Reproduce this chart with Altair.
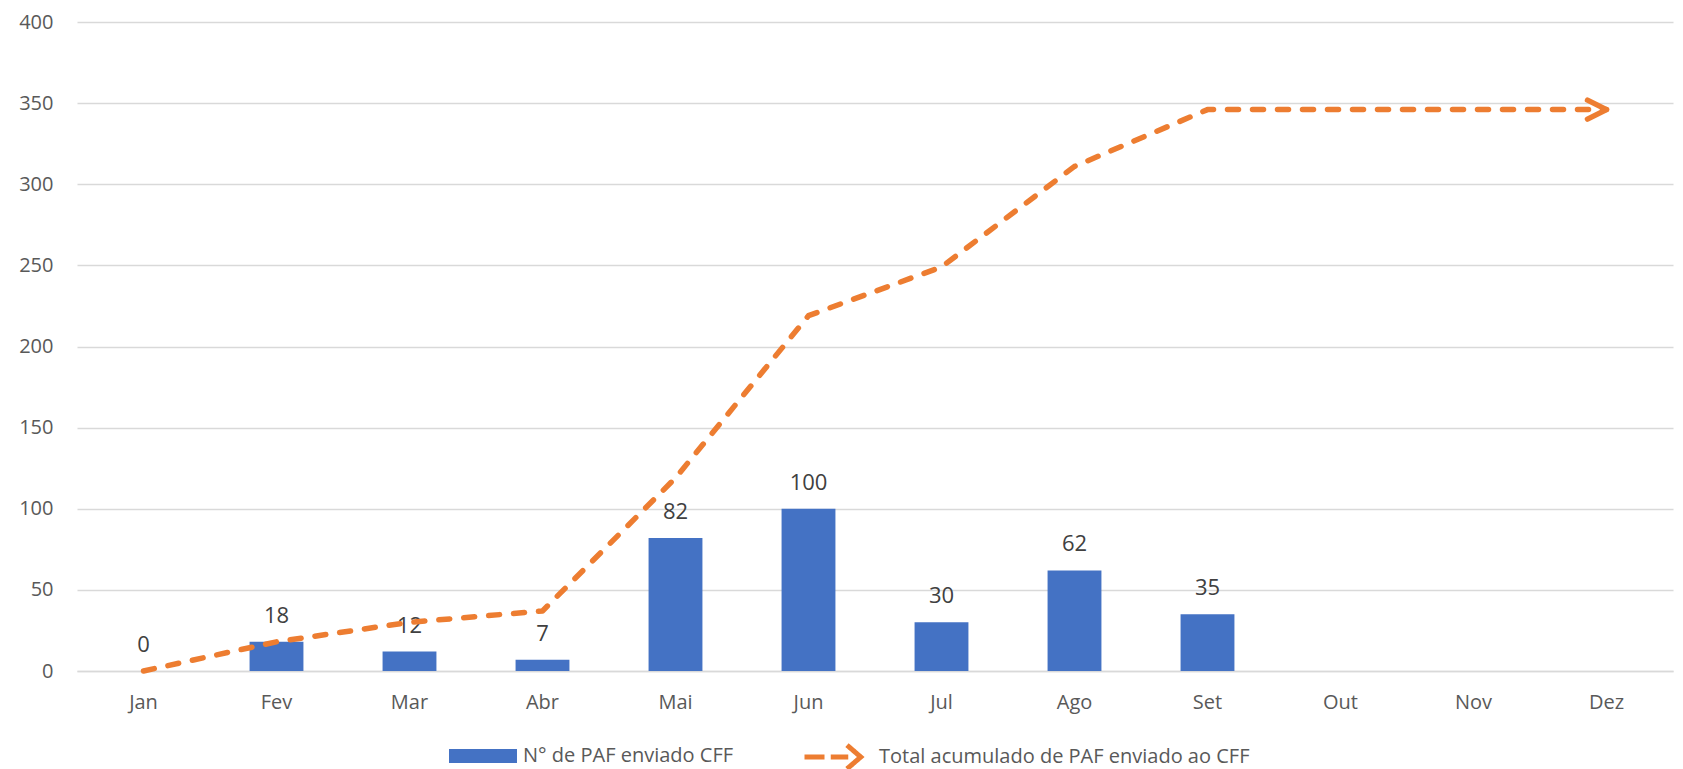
import altair as alt
import pandas as pd

months = ["Jan", "Fev", "Mar", "Abr", "Mai", "Jun", "Jul", "Ago", "Set", "Out", "Nov", "Dez"]
enviados = [0, 18, 12, 7, 82, 100, 30, 62, 35, None, None, None]
acumulado = [0, 18, 30, 37, 119, 219, 249, 311, 346, 346, 346, 346]
y_ticks = [0, 50, 100, 150, 200, 250, 300, 350, 400]

bar_name = "N° de PAF enviado CFF"
line_name = "Total acumulado de PAF enviado ao CFF"

BLUE = "#4472C4"
ORANGE = "#ED7D31"
GRID = "#d9d9d9"
TXT = "#595959"
FONT = "Open Sans"

df = pd.DataFrame({
    "mes": months,
    "enviados": enviados,
    "acumulado": acumulado,
    "serie_barra": bar_name,
    "serie_linha": line_name,
})

x = alt.X(
    "mes:N", sort=months,
    scale=alt.Scale(paddingInner=0.595, paddingOuter=0.2975),
    axis=alt.Axis(title=None, labelAngle=0, labelPadding=21, ticks=False,
                  domainColor=GRID, domainWidth=1.5, grid=False),
)
y_scale = alt.Scale(domain=[0, 400], nice=False)
y_axis = alt.Axis(title=None, values=y_ticks, labelPadding=24, ticks=False,
                  domain=False, grid=True)

base = alt.Chart(df)

bars = base.mark_bar(color=BLUE).encode(
    x=x,
    y=alt.Y("enviados:Q", scale=y_scale, axis=y_axis),
    color=alt.Color(
        "serie_barra:N",
        scale=alt.Scale(domain=[bar_name], range=[BLUE]),
        legend=alt.Legend(
            title=None, orient="none", legendX=372, legendY=719, padding=0,
            symbolType="M-1,-0.467L3.533,-0.467L3.533,0.467L-1,0.467Z",
            symbolSize=900, symbolStrokeWidth=0, labelOffset=44, labelLimit=0,
        ),
    ),
)

labels = base.mark_text(
    dy=-19, baseline="alphabetic", fontSize=22, color="#404040", font=FONT
).encode(
    x=x,
    y=alt.Y("enviados:Q", scale=y_scale),
    text=alt.Text("enviados:Q", format="d"),
).transform_filter("isValid(datum.enviados)")

line = base.mark_line(
    strokeWidth=5.5, strokeDash=[11, 14], strokeCap="round", strokeJoin="round"
).encode(
    x=x,
    y=alt.Y("acumulado:Q", scale=y_scale),
    color=alt.Color(
        "serie_linha:N",
        scale=alt.Scale(domain=[line_name], range=[ORANGE]),
        legend=alt.Legend(
            title=None, orient="none", legendX=725, legendY=720, padding=0,
            symbolType="M-1,0L0.6,0M1.1,0L2.5,0M2.4,-0.95L3.5,0L2.4,0.95",
            symbolSize=625, symbolStrokeWidth=5, symbolDash=[1, 0],
            symbolFillColor="transparent", labelOffset=47, labelLimit=0,
        ),
    ),
)

arrow = base.mark_point(
    shape="M-2,-1L0,0L-2,1", size=361, filled=False, color=ORANGE,
    strokeWidth=5.5, strokeCap="round", strokeJoin="round", opacity=1,
).encode(
    x=x,
    y=alt.Y("acumulado:Q", scale=y_scale),
).transform_filter(f"datum.mes == '{months[-1]}'")

chart = alt.layer(bars, labels, line, arrow).resolve_scale(
    color="independent"
).resolve_legend(
    color="independent"
).properties(
    width=1596, height=649,
    autosize=alt.AutoSizeParams(type="none"),
    padding={"left": 69, "top": 14, "right": 2, "bottom": 98},
).configure_view(
    stroke=None
).configure_axis(
    gridColor=GRID, gridWidth=1.5,
    labelFont=FONT, labelFontSize=20, labelColor=TXT,
).configure_legend(
    labelFont=FONT, labelFontSize=20, labelColor=TXT,
)

chart.save("out.html", embed_options={"renderer": "svg", "actions": False})
